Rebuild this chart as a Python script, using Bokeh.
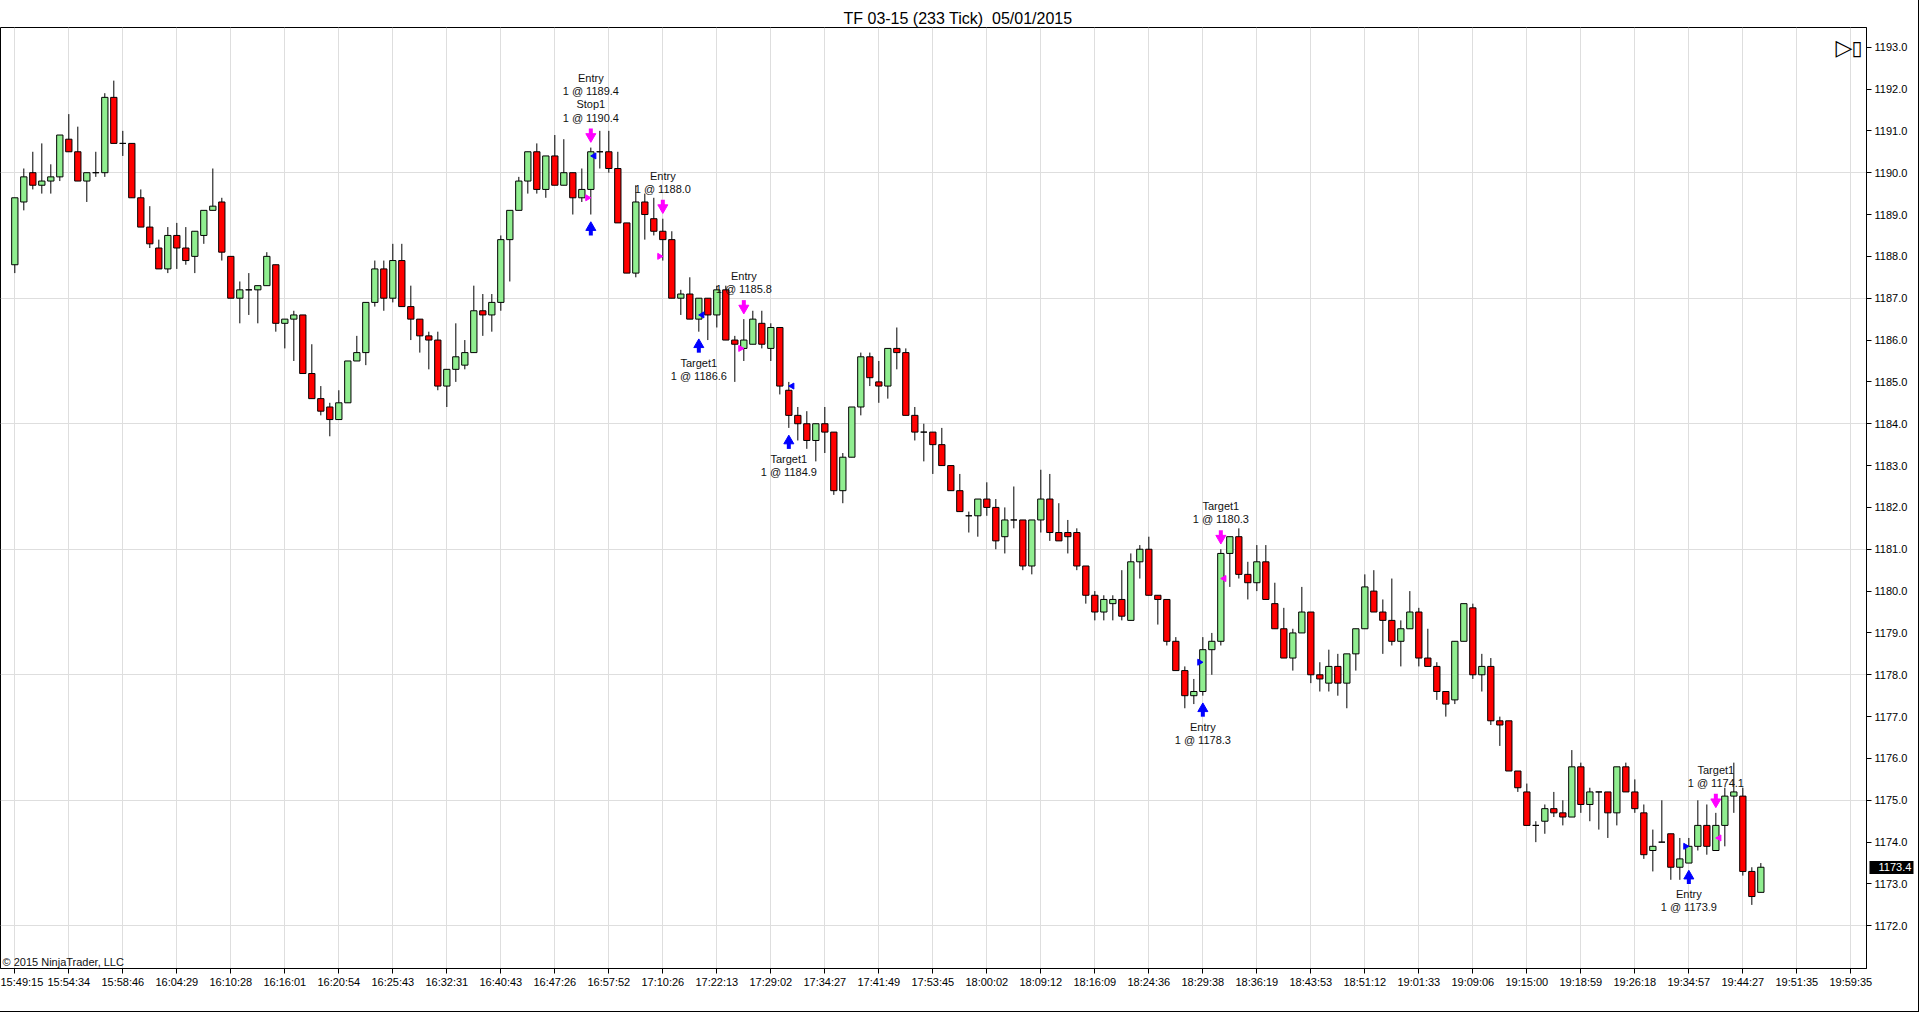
import numpy as np
from bokeh.plotting import figure
from bokeh.models import FixedTicker, PrintfTickFormatter, Label, ColumnDataSource, LinearAxis
from bokeh.embed import file_html
from bokeh.resources import INLINE
from bokeh.core.properties import value

# ---------------- data ----------------
opens = [
    1187.8, 1189.3, 1190.0, 1189.7, 1189.8, 1189.9, 1190.8, 1190.5, 1189.8, 1190.0,
    1190.0, 1191.8, 1190.7, 1190.7, 1189.4, 1188.7, 1188.2, 1187.7, 1188.5, 1188.2,
    1188.0, 1188.5, 1189.1, 1189.3, 1188.0, 1187.0, 1187.2, 1187.2, 1187.3, 1187.8,
    1186.4, 1186.5, 1186.6, 1185.2, 1184.6, 1184.4, 1184.1, 1184.5, 1185.5, 1185.7,
    1186.9, 1187.7, 1187.0, 1187.9, 1186.8, 1186.5, 1186.1, 1186.0, 1184.9, 1185.3,
    1185.4, 1185.7, 1186.7, 1186.6, 1186.9, 1188.4, 1189.1, 1189.8, 1190.5, 1189.6,
    1190.4, 1189.7, 1190.0, 1189.4, 1189.6, 1190.5, 1190.5, 1190.1, 1188.8, 1187.6,
    1189.3, 1188.9, 1188.6, 1188.4, 1187.0, 1187.1, 1186.5, 1187.0, 1186.6, 1187.2,
    1186.0, 1185.8, 1185.9, 1186.4, 1185.8, 1186.3, 1184.8, 1184.2, 1184.0, 1183.6,
    1184.0, 1183.8, 1182.4, 1183.2, 1184.4, 1185.6, 1185.0, 1184.9, 1185.8, 1185.7,
    1184.2, 1183.8, 1183.8, 1183.5, 1183.0, 1182.4, 1181.8, 1181.8, 1182.2, 1182.0,
    1181.3, 1181.7, 1181.7, 1180.6, 1181.7, 1182.2, 1181.4, 1181.4, 1181.4, 1180.6,
    1179.9, 1179.5, 1179.7, 1179.8, 1179.3, 1180.7, 1181.0, 1179.9, 1179.8, 1178.8,
    1178.1, 1177.5, 1177.6, 1178.6, 1178.8, 1180.9, 1181.3, 1180.4, 1180.2, 1180.7,
    1179.7, 1179.1, 1178.4, 1179.0, 1179.5, 1178.0, 1177.8, 1178.2, 1177.8, 1178.5,
    1179.1, 1180.0, 1179.5, 1179.3, 1178.8, 1179.1, 1179.5, 1178.4, 1178.2, 1177.6,
    1177.4, 1178.8, 1179.6, 1178.0, 1178.2, 1176.9, 1176.9, 1175.7, 1175.2, 1174.4,
    1174.5, 1174.8, 1174.7, 1174.6, 1175.8, 1174.9, 1175.2, 1175.2, 1174.7, 1175.8,
    1175.2, 1174.7, 1173.8, 1174.0, 1174.2, 1173.4, 1173.5, 1173.9, 1174.4, 1173.8,
    1174.4, 1175.1, 1175.1, 1173.3, 1172.8,
]
highs = [
    1189.4, 1190.1, 1190.5, 1190.7, 1190.2, 1190.9, 1191.4, 1191.1, 1190.0, 1190.5,
    1191.9, 1192.2, 1191.0, 1190.7, 1189.6, 1189.2, 1188.4, 1188.7, 1188.8, 1188.7,
    1188.6, 1189.1, 1190.1, 1189.4, 1188.0, 1187.4, 1187.6, 1187.3, 1188.1, 1187.8,
    1186.5, 1186.7, 1186.6, 1185.9, 1184.9, 1184.5, 1184.8, 1185.5, 1186.1, 1186.9,
    1187.9, 1187.9, 1188.3, 1188.3, 1187.3, 1186.5, 1186.2, 1186.2, 1185.3, 1186.4,
    1186.0, 1187.3, 1187.1, 1187.1, 1188.5, 1189.1, 1189.9, 1190.5, 1190.7, 1190.4,
    1190.9, 1190.8, 1190.0, 1190.1, 1190.6, 1191.0, 1191.0, 1190.5, 1188.8, 1189.7,
    1189.5, 1189.4, 1188.9, 1188.6, 1187.2, 1187.5, 1187.0, 1187.0, 1187.3, 1187.3,
    1186.1, 1186.5, 1186.7, 1186.7, 1186.4, 1186.3, 1185.0, 1184.4, 1184.3, 1184.0,
    1184.4, 1183.8, 1183.3, 1184.4, 1185.7, 1185.7, 1185.5, 1185.8, 1186.3, 1185.8,
    1184.4, 1184.0, 1183.8, 1183.9, 1183.0, 1182.8, 1181.9, 1182.2, 1182.6, 1182.2,
    1182.0, 1182.5, 1181.7, 1181.7, 1182.9, 1182.8, 1182.1, 1181.7, 1181.5, 1180.6,
    1180.0, 1179.9, 1179.9, 1180.5, 1180.9, 1181.1, 1181.3, 1179.9, 1179.8, 1178.9,
    1178.2, 1177.9, 1178.9, 1179.0, 1181.0, 1181.3, 1181.5, 1180.7, 1181.1, 1181.1,
    1180.2, 1179.6, 1179.1, 1180.1, 1179.5, 1178.3, 1178.6, 1178.5, 1178.5, 1179.1,
    1180.4, 1180.5, 1179.8, 1180.3, 1179.3, 1180.0, 1179.6, 1179.1, 1178.3, 1177.6,
    1178.8, 1179.7, 1179.7, 1178.5, 1178.4, 1177.0, 1176.9, 1175.7, 1175.4, 1174.5,
    1174.9, 1175.2, 1175.0, 1176.2, 1175.9, 1175.3, 1175.2, 1175.2, 1175.8, 1175.9,
    1175.5, 1174.9, 1174.3, 1175.0, 1174.2, 1174.1, 1174.1, 1175.0, 1174.9, 1174.7,
    1175.3, 1175.9, 1175.3, 1173.4, 1173.5,
]
lows = [
    1187.6, 1189.1, 1189.6, 1189.5, 1189.5, 1189.8, 1190.5, 1189.8, 1189.3, 1189.9,
    1189.9, 1190.7, 1190.4, 1189.4, 1188.7, 1188.2, 1187.7, 1187.6, 1187.7, 1187.8,
    1187.6, 1188.3, 1189.1, 1187.9, 1187.0, 1186.4, 1186.6, 1186.4, 1187.3, 1186.2,
    1185.8, 1185.5, 1185.2, 1184.6, 1184.2, 1183.7, 1184.1, 1184.5, 1185.5, 1185.4,
    1186.8, 1186.7, 1186.9, 1186.8, 1186.0, 1185.7, 1185.3, 1184.8, 1184.4, 1185.0,
    1185.3, 1185.7, 1186.1, 1186.2, 1186.7, 1187.4, 1189.1, 1189.5, 1189.5, 1189.4,
    1189.7, 1189.7, 1189.0, 1189.3, 1189.0, 1190.1, 1190.0, 1188.8, 1187.6, 1187.5,
    1188.4, 1188.5, 1187.9, 1187.0, 1186.6, 1186.5, 1186.2, 1186.0, 1186.3, 1186.0,
    1185.0, 1185.5, 1185.9, 1185.8, 1185.5, 1184.7, 1183.9, 1183.6, 1183.4, 1183.1,
    1183.3, 1182.3, 1182.1, 1183.2, 1184.2, 1184.9, 1184.5, 1184.6, 1185.3, 1184.2,
    1183.6, 1183.1, 1182.8, 1183.0, 1182.4, 1181.9, 1181.4, 1181.3, 1181.8, 1181.0,
    1180.9, 1181.5, 1180.5, 1180.4, 1181.4, 1181.2, 1181.2, 1180.9, 1180.5, 1179.7,
    1179.3, 1179.3, 1179.3, 1179.3, 1179.3, 1180.3, 1179.9, 1179.2, 1178.7, 1178.1,
    1177.2, 1177.3, 1177.5, 1178.0, 1178.7, 1180.1, 1180.3, 1179.8, 1180.0, 1179.8,
    1179.1, 1178.4, 1178.1, 1179.0, 1177.8, 1177.6, 1177.6, 1177.5, 1177.2, 1178.1,
    1179.1, 1179.5, 1178.5, 1178.7, 1178.2, 1179.1, 1178.2, 1178.2, 1177.4, 1177.0,
    1177.3, 1178.8, 1177.9, 1177.6, 1176.8, 1176.3, 1175.7, 1175.2, 1174.4, 1174.0,
    1174.2, 1174.6, 1174.4, 1174.6, 1174.7, 1174.5, 1174.3, 1174.1, 1174.4, 1175.2,
    1174.7, 1173.6, 1173.3, 1174.0, 1173.1, 1173.1, 1173.5, 1173.8, 1173.7, 1173.8,
    1173.9, 1174.7, 1173.2, 1172.5, 1172.8,
]
closes = [
    1189.4, 1189.9, 1189.7, 1189.8, 1189.9, 1190.9, 1190.5, 1189.8, 1190.0, 1190.0,
    1191.8, 1190.7, 1190.7, 1189.4, 1188.7, 1188.3, 1187.7, 1188.5, 1188.2, 1187.9,
    1188.6, 1189.1, 1189.2, 1188.1, 1187.0, 1187.2, 1187.2, 1187.3, 1188.0, 1186.4,
    1186.5, 1186.6, 1185.2, 1184.6, 1184.3, 1184.1, 1184.5, 1185.5, 1185.7, 1186.9,
    1187.7, 1187.0, 1187.9, 1186.8, 1186.5, 1186.1, 1186.0, 1184.9, 1185.3, 1185.6,
    1185.7, 1186.7, 1186.6, 1186.9, 1188.4, 1189.1, 1189.8, 1190.5, 1189.6, 1190.4,
    1189.7, 1190.0, 1189.4, 1189.6, 1190.5, 1190.5, 1190.1, 1188.8, 1187.6, 1189.3,
    1189.0, 1188.6, 1188.4, 1187.0, 1187.1, 1186.5, 1187.0, 1186.6, 1187.2, 1186.0,
    1185.9, 1186.0, 1186.5, 1185.9, 1186.3, 1184.9, 1184.2, 1184.0, 1183.6, 1184.0,
    1183.8, 1182.4, 1183.2, 1184.4, 1185.6, 1185.1, 1184.9, 1185.8, 1185.7, 1184.2,
    1183.8, 1183.8, 1183.5, 1183.0, 1182.4, 1181.9, 1181.8, 1182.2, 1182.0, 1181.2,
    1181.7, 1181.7, 1180.6, 1181.7, 1182.2, 1181.4, 1181.2, 1181.3, 1180.6, 1179.9,
    1179.5, 1179.8, 1179.8, 1179.4, 1180.7, 1181.0, 1179.9, 1179.8, 1178.8, 1178.1,
    1177.5, 1177.6, 1178.6, 1178.8, 1180.9, 1181.3, 1180.4, 1180.2, 1180.7, 1179.8,
    1179.1, 1178.4, 1179.0, 1179.5, 1178.0, 1177.9, 1178.2, 1177.8, 1178.5, 1179.1,
    1180.1, 1179.5, 1179.3, 1178.8, 1179.1, 1179.5, 1178.4, 1178.2, 1177.6, 1177.3,
    1178.8, 1179.7, 1178.0, 1178.2, 1176.9, 1176.8, 1175.7, 1175.3, 1174.4, 1174.4,
    1174.8, 1174.7, 1174.6, 1175.8, 1174.9, 1175.2, 1175.2, 1174.7, 1175.8, 1175.2,
    1174.8, 1173.7, 1173.9, 1174.0, 1173.4, 1173.6, 1173.9, 1174.4, 1173.9, 1174.4,
    1175.1, 1175.2, 1173.3, 1172.7, 1173.4,
]
bar_index = list(range(len(opens)))

# x-axis labels: one label every 6 bars (bar index of each label)
time_label_bars = list(range(0, 205, 6))
time_labels = [
    "15:49:15", "15:54:34", "15:58:46", "16:04:29", "16:10:28", "16:16:01",
    "16:20:54", "16:25:43", "16:32:31", "16:40:43", "16:47:26", "16:57:52",
    "17:10:26", "17:22:13", "17:29:02", "17:34:27", "17:41:49", "17:53:45",
    "18:00:02", "18:09:12", "18:16:09", "18:24:36", "18:29:38", "18:36:19",
    "18:43:53", "18:51:12", "19:01:33", "19:09:06", "19:15:00", "19:18:59",
    "19:26:18", "19:34:57", "19:44:27", "19:51:35", "19:59:35",
]
price_ticks = [1172, 1173, 1174, 1175, 1176, 1177, 1178, 1179, 1180, 1181, 1182,
               1183, 1184, 1185, 1186, 1187, 1188, 1189, 1190, 1191, 1192, 1193]
price_grid = [1172, 1175, 1178, 1181, 1184, 1187, 1190]

# trade executions
exec_bar = [64, 64, 72, 76, 81, 86, 132, 134, 186, 189]
exec_price = [1189.4, 1190.4, 1188.0, 1186.6, 1185.8, 1184.9, 1178.3, 1180.3, 1173.9, 1174.1]
exec_side = ["sell", "buy", "sell", "buy", "sell", "buy", "buy", "sell", "buy", "sell"]
exec_role = ["entry", "exit", "entry", "exit", "entry", "exit", "entry", "exit", "entry", "exit"]
exec_name = ["Entry", "Stop1", "Entry", "Target1", "Entry", "Target1", "Entry", "Target1", "Entry", "Target1"]

title_text = "TF 03-15 (233 Tick)\u00a0 05/01/2015"
copyright_text = "\u00a9 2015 NinjaTrader, LLC"

# ---------------- figure ----------------
X0, X1 = -1.59, 205.74
Y0, Y1 = 1170.98, 1193.47
FW, FH = 1866, 941
PPU = FH / (Y1 - Y0)      # pixels per price unit
FONT = "Liberation Sans"
MAGENTA = "#ff00ff"
BLUE = "#0000ff"

p = figure(frame_width=FW, frame_height=FH, x_range=(X0, X1), y_range=(Y0, Y1),
           y_axis_location="right", output_backend="svg", toolbar_location=None,
           min_border_left=0, min_border_right=52, min_border_top=27, min_border_bottom=43,
           title=title_text)
p.title.align = "left"
p.title.offset = 843
p.title.standoff = 0
p.title.vertical_align = "middle"
p.title.text_font = FONT
p.title.text_font_size = "16px"
p.title.text_font_style = "normal"
p.title.text_color = "#000000"
p.outline_line_color = "black"
p.outline_line_width = 1
p.background_fill_color = "white"
p.border_fill_color = "white"
p.styles = {"border-right": "1px solid black", "border-bottom": "1px solid black"}

# axes
p.xaxis.ticker = FixedTicker(ticks=time_label_bars)
p.xaxis.major_label_overrides = {b: t for b, t in zip(time_label_bars, time_labels)}
p.yaxis.ticker = FixedTicker(ticks=price_ticks)
p.yaxis.formatter = PrintfTickFormatter(format="%.1f")
for ax in (p.xaxis, p.yaxis):
    ax.axis_line_color = "black"
    ax.major_tick_line_color = "black"
    ax.major_tick_out = 5
    ax.major_tick_in = 0
    ax.minor_tick_line_color = None
    ax.major_label_text_font = FONT
    ax.major_label_text_font_size = "11px"
    ax.major_label_text_color = "#000000"
p.xaxis.major_label_standoff = 2
p.yaxis.major_label_standoff = 3

p.xgrid.ticker = FixedTicker(ticks=time_label_bars)
p.ygrid.ticker = FixedTicker(ticks=price_grid)
p.grid.grid_line_color = "#dedede"
p.grid.grid_line_width = 1

# last-price tag: a second right axis laid just outside the price axis,
# its (thick, inward) minor tick is the black box and its label the price
last_price = closes[-1]
tag_axis = LinearAxis(ticker=FixedTicker(ticks=[last_price], minor_ticks=[last_price]),
                      formatter=PrintfTickFormatter(format="%.1f"),
                      axis_line_color=None, major_tick_line_color=None,
                      major_tick_out=0, major_tick_in=0,
                      minor_tick_out=3, minor_tick_in=41, minor_tick_line_width=13,
                      minor_tick_line_color="black",
                      major_label_text_font=FONT, major_label_text_font_size="11px",
                      major_label_text_color="white", major_label_standoff=-35)
p.add_layout(tag_axis, "right")

# candles
o = np.array(opens); h = np.array(highs); l = np.array(lows); c = np.array(closes)
src = ColumnDataSource(dict(
    x=bar_index, h=h, l=l,
    top=np.maximum(o, c), bottom=np.minimum(o, c),
    color=np.where(c >= o, "#90ee90", "#ff0000"),
))
p.segment(x0="x", y0="h", x1="x", y1="l", line_color="black", line_width=1, source=src)
p.vbar(x="x", width=0.7, top="top", bottom="bottom", fill_color="color",
       line_color="black", line_width=1, source=src)

# trade arrows
def px(v):
    return v / PPU

ar = dict(x=[], head=[], s0=[], s1=[], color=[], marker=[])
for b, s in zip(exec_bar, exec_side):
    if s == "sell":
        tip = highs[b] + px(6)
        ar["head"].append(tip + px(5))
        ar["s0"].append(tip + px(6)); ar["s1"].append(tip + px(13))
        ar["color"].append(MAGENTA); ar["marker"].append("inverted_triangle")
    else:
        tip = lows[b] - px(8)
        ar["head"].append(tip - px(5))
        ar["s0"].append(tip - px(6)); ar["s1"].append(tip - px(13))
        ar["color"].append(BLUE); ar["marker"].append("triangle")
    ar["x"].append(b)
asrc = ColumnDataSource(ar)
p.segment(x0="x", y0="s0", x1="x", y1="s1", line_color="color", line_width=4, source=asrc)
p.scatter(x="x", y="head", marker="marker", size=10, fill_color="color", line_color="color",
          source=asrc)

# execution markers
em = dict(x=[], y=[], color=[], angle=[])
for b, pr, s, r in zip(exec_bar, exec_price, exec_side, exec_role):
    em["x"].append(b - 0.37 if r == "entry" else b + 0.37)
    em["y"].append(pr)
    em["color"].append(MAGENTA if s == "sell" else BLUE)
    em["angle"].append(-np.pi / 2 if r == "entry" else np.pi / 2)
p.scatter(x="x", y="y", angle="angle", marker="triangle", size=6, fill_color="color",
          line_color="color", source=ColumnDataSource(em))

# trade texts (grouped per bar)
groups = {}
for b, pr, s, n in zip(exec_bar, exec_price, exec_side, exec_name):
    groups.setdefault(b, []).append((s, f"{n}\n1 @ {pr:.1f}"))
ta = dict(x=[], y=[], text=[]); tb = dict(x=[], y=[], text=[])
for b, items in groups.items():
    txt = "\n".join(t for _, t in items)
    if any(s == "sell" for s, _ in items):
        ta["x"].append(b); ta["y"].append(highs[b] + px(6 + 13 + 5)); ta["text"].append(txt)
    else:
        tb["x"].append(b); tb["y"].append(lows[b] - px(8 + 13 + 4)); tb["text"].append(txt)
common = dict(text_font=value(FONT), text_font_size="11px", text_color="#111111",
              text_align="center", text_line_height=1.1)
p.text(x="x", y="y", text="text", text_baseline="bottom", source=ColumnDataSource(ta), **common)
p.text(x="x", y="y", text="text", text_baseline="top", source=ColumnDataSource(tb), **common)

# copyright and navigation icon
p.add_layout(Label(x=2, y=1, x_units="screen", y_units="screen", text=copyright_text,
                   text_font=FONT, text_font_size="11px", text_color="#111111",
                   text_baseline="bottom"))
p.add_layout(Label(x=1835, y=FH - 20, x_units="screen", y_units="screen", text="\u25b7",
                   text_font="DejaVu Sans", text_font_size="22px", text_color="black",
                   text_baseline="middle"))
p.add_layout(Label(x=1851, y=FH - 20, x_units="screen", y_units="screen", text="\u25af",
                   text_font="DejaVu Sans", text_font_size="20px", text_color="black",
                   text_baseline="middle"))

open("out.html", "w").write(file_html(p, INLINE))
